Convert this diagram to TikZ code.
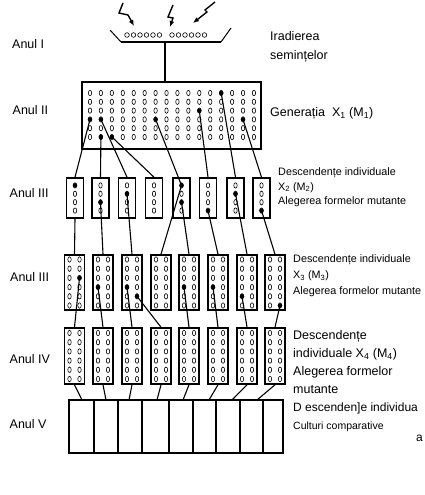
\documentclass[tikz,border=0pt]{standalone}
\usepackage{fontspec}
\setmainfont{Liberation Sans}
\usetikzlibrary{arrows.meta}

\tikzset{
  cell/.style={draw=black, line width=1.6pt, inner sep=0pt},
  grain/.style={draw=black, line width=0.6pt},
  link/.style={draw=black, line width=1.1pt},
  year/.style={anchor=west, inner sep=0pt, font=\fontsize{12.5}{14}\selectfont},
  note/.style={anchor=west, inner sep=0pt, align=left},
}

\begin{document}
\begin{tikzpicture}[x=1pt, y=-1pt, >={Latex[length=6pt,width=5pt]}]
        \useasboundingbox (0,0) rectangle (425,495);

        % radiation and seed tray
        \draw[->, line width=1.4pt] (123,3) -- (119,13) -- (128,15) -- (134,26);
        \draw[->, line width=1.4pt] (173,5) -- (168,17) -- (173,18) -- (170,27);
        \draw[->, line width=1.4pt] (215,2) -- (205,10) -- (207,12) -- (193,23);
        \coordinate (tray) at (165,42);
        \draw[line width=1pt] (110,30) -- (121,42);
        \draw[line width=1pt] (221,42) -- (231,28);
        \draw[line width=1.8pt] (121,42) -- (221,42);
        \foreach \x in {127,133.5,140,146.5,153,159.5,172,178.5,185,191.5,198,204.5}
            \draw[grain] (\x,35) circle (2.3pt);

        % generation X1
        \node[cell, minimum width=179pt, minimum height=67pt] (gen) at (171.5,115.5) {};
        \draw[link] (tray) -- (tray |- gen.north);
        \foreach \i in {0,...,15} {
            \foreach \j in {0,...,5}
                \draw[grain] (90+\i*10.93, 93+\j*8.8) ellipse (1.7pt and 2.7pt);
        }

        % generation X2
        \foreach \x [count=\i] in {75,100.5,127,154,181.5,208,235.5,261.5} {
            \node[cell, minimum width=17pt, minimum height=40pt] (a\i) at (\x,198) {};
            \foreach \dy in {-12.6,-4.2,4.2,12.6}
                \draw[grain] (\x,198+\dy) ellipse (1.7pt and 2.7pt);
        }

        % generation X3
        \foreach \x [count=\i] in {74.5,103,132,161,189,218,247,275} {
            \node[cell, minimum width=20pt, minimum height=55pt] (b\i) at (\x,282.5) {};
            \foreach \dy in {-23,-13.8,-4.6,4.6,13.8,23} {
                \draw[grain] (\x-5,282.5+\dy) ellipse (1.7pt and 2.7pt);
                \draw[grain] (\x+5,282.5+\dy) ellipse (1.7pt and 2.7pt);
            }
        }

        % generation X4
        \foreach \x [count=\i] in {74.5,103,132,161,189,218,247,275} {
            \node[cell, minimum width=20pt, minimum height=56pt] (c\i) at (\x,356) {};
            \foreach \dy in {-23,-13.8,-4.6,4.6,13.8,23} {
                \draw[grain] (\x-5,356+\dy) ellipse (1.7pt and 2.7pt);
                \draw[grain] (\x+5,356+\dy) ellipse (1.7pt and 2.7pt);
            }
        }

        % comparative cultures
        \draw[cell] (69,400) rectangle (283,453);
        \foreach \x in {94,118,142,169,193,216,240,263}
            \draw[line width=1.3pt] (\x,400) -- (\x,453);
        \foreach \x [count=\i] in {82,106,129,157,183,209,232,257}
            \coordinate (t\i) at (\x,400);

        % selected mutants
        \foreach \n/\x/\y in {sg1/90/119.4, sg2/100.9/137, sg3/100.9/119.4, sg4/111.9/137,
                sg5/155.6/119.4, sg6/199.3/110.6, sg7/221.2/93, sg8/243/119.4,
                sa1/75/185.4, sa2/100.5/202.2, sa3/127/193.8, sa5/181.5/185.4,
                sa5b/181.5/202.2, sa6/208/210.6, sa7/235.5/193.8, sa8/261.5/210.6,
                sb1/79.5/277.9, sb2/98/287.1, sb3/127/287.1, sb3b/137/296.3,
                sb5/184/287.1, sb6/213/287.1, sb7/242/296.3, sb8/280/305.5} {
            \coordinate (\n) at (\x,\y);
            \fill (\n) circle (2.3pt);
        }

        \foreach \s/\t in {sg1/a1, sg2/a2, sg3/a3, sg4/a4, sg6/a6, sg7/a7, sg8/a8}
            \draw[link] (\s) -- (\t.north);
        \draw[link] (sg5) -- (sa5);
        \draw[link] (a1.south) -- (b1.north);
        \foreach \s/\t in {sa2/b2, sa3/b3, sa5/b4, sa5b/b5, sa6/b6, sa7/b7, sa8/b8}
            \draw[link] (\s) -- (\t.north);
        \foreach \s/\t in {sb1/c1, sb2/c2, sb3/c3, sb3b/c4, sb5/c5, sb6/c6, sb7/c7, sb8/c8}
            \draw[link] (\s) -- (\t.north);
        \foreach \i in {1,...,8}
            \draw[link] (c\i.south) -- (t\i);

        % years
        \node[year] (y1) at (12,44) {Anul I};
        \node[year] (y2) at (12.5,110) {Anul II};
        \node[year] (y3) at (9.5,193) {Anul III};
        \node[year] (y4) at (10,277) {Anul III};
        \node[year] (y5) at (9.5,359) {Anul IV};
        \node[year] (y6) at (9.5,424) {Anul V};

        % stages
        \node[note, font=\fontsize{12.5}{19}\selectfont] (l1) at (270,46.5) {Iradierea\\semințelor};
        \node[note, font=\fontsize{12.5}{14}\selectfont] (l2) at (270,113) {Generația\ \ X\textsubscript{1} (M\textsubscript{1})};
        \node[note, font=\fontsize{10.8}{14.5}\selectfont] (l3) at (278,187.5) {Descendențe individuale\\X\textsubscript{2} (M\textsubscript{2})\\Alegerea formelor mutante};
        \node[note, font=\fontsize{10.8}{16}\selectfont] (l4) at (293,276) {Descendențe individuale\\X\textsubscript{3} (M\textsubscript{3})\\Alegerea formelor mutante};
        \node[note, font=\fontsize{12.5}{18}\selectfont] (l5) at (293,362) {Descendențe\\individuale X\textsubscript{4} (M\textsubscript{4})\\Alegerea formelor\\mutante};
        \node[note, font=\fontsize{12}{14}\selectfont] (l6) at (293,408) {D escenden]e individua};
        \node[note, font=\fontsize{10.5}{12}\selectfont] (l7) at (293,427) {Culturi comparative};
        \node[note, font=\fontsize{12}{14}\selectfont] (l8) at (416,438) {a};
\end{tikzpicture}
\end{document}
